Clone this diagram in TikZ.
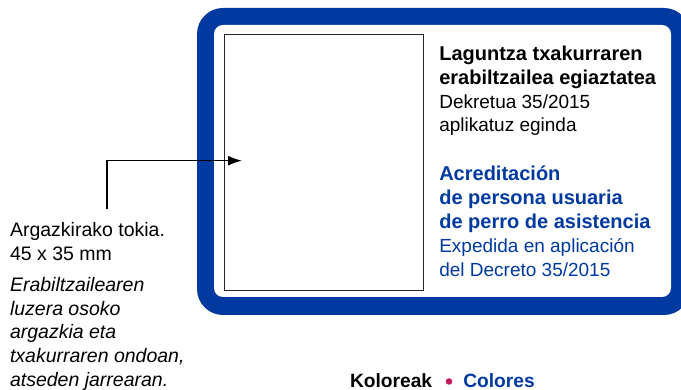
\documentclass[tikz,border=0pt]{standalone}
\usepackage{fontspec}
\setmainfont{Liberation Sans}
\usetikzlibrary{arrows.meta}
\definecolor{cardblue}{RGB}{0,58,160}
\definecolor{dotmag}{RGB}{196,20,90}
\begin{document}
\begin{tikzpicture}[x=1pt,y=-1pt,
  txt/.style={anchor=base west,inner sep=0pt,outer sep=0pt},
  bt/.style={txt,font=\fontsize{20}{24}\selectfont\bfseries},
  rt/.style={txt,font=\fontsize{19}{24}\selectfont},
  lt/.style={txt,font=\fontsize{19.5}{24}\selectfont},
  it/.style={txt,font=\fontsize{19.5}{24}\selectfont\itshape},
  kt/.style={txt,font=\fontsize{19.2}{22}\selectfont\bfseries},
  ptr/.style={line width=1.5pt,-{Latex[length=14pt,width=10pt]}}]
\useasboundingbox (0,0) rectangle (681,390);
\fill[white] (0,0) rectangle (681,390);
% card frame
\fill[cardblue,rounded corners=26pt] (197,8) rectangle (690,315);
\fill[white,rounded corners=9pt] (214,25) rectangle (671,297);
% photo box
\node[draw=black!85,line width=1pt,minimum width=199pt,minimum height=256pt,inner sep=0pt,anchor=north west] (photo) at (224,34) {};
% card texts
\node[bt] (t1) at (439.3,60.5) {Laguntza txakurraren};
\node[bt] (t2) at (439.3,84.5) {erabiltzailea egiaztatea};
\node[rt] (t3) at (439.3,108.5) {Dekretua 35/2015};
\node[rt] (t4) at (439.3,132) {aplikatuz eginda};
\node[bt,text=cardblue] (t5) at (439.3,181) {Acreditación};
\node[bt,text=cardblue] (t6) at (439.3,205) {de persona usuaria};
\node[bt,text=cardblue] (t7) at (439.3,229) {de perro de asistencia};
\node[rt,text=cardblue] (t8) at (439.3,253) {Expedida en aplicación};
\node[rt,text=cardblue] (t9) at (439.3,277) {del Decreto 35/2015};
% left label
\node[lt] (l1) at (10,236.7) {Argazkirako tokia.};
\node[lt] (l2) at (10,260.7) {45 x 35 mm};
\node[it] (l3) at (10,291.7) {Erabiltzailearen};
\node[it] (l4) at (10,315.3) {luzera osoko};
\node[it] (l5) at (10,339) {argazkia eta};
\node[it] (l6) at (10,362.8) {txakurraren ondoan,};
\node[it] (l7) at (10,386.7) {atseden jarrearan.};
% pointer
\coordinate (p0) at (107,209);
\coordinate (ptip) at (242,160.7);
\draw[ptr] (p0) |- (ptip);
% colours caption
\node[kt] (k1) at (350,387.3) {Koloreak};
\node[circle,fill=dotmag,inner sep=0pt,minimum size=6.5pt] (kdot) at (449,381.5) {};
\node[kt,text=cardblue] (k2) at (463.3,387.3) {Colores};
\end{tikzpicture}
\end{document}
